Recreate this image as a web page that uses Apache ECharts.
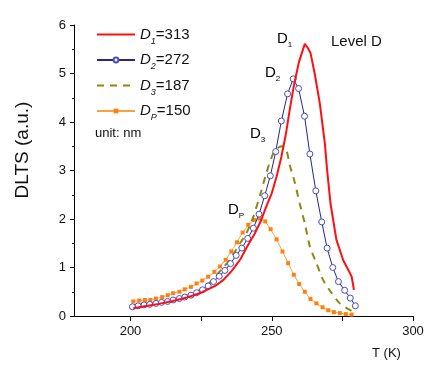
<!DOCTYPE html>
<html><head><meta charset="utf-8">
<script src="https://cdn.jsdelivr.net/npm/echarts@6/dist/echarts.min.js"></script>
<style>html,body{margin:0;padding:0;background:#fff}#c{width:438px;height:379px}</style>
</head><body><div id="c"></div>
<script>
// ---- data ----
var seriesLabels = ['1', '2', '3', 'P'];
var seriesSizes = ['313', '272', '187', '150'];
var xTicks = [200, 225, 250, 275, 300];
var xLabels = [200, 250, 300];

var d1T = [201, 205, 210, 215, 220, 225, 230, 233, 236, 239, 241, 244, 246.3, 248, 250, 251.7, 253.4, 255, 256.5, 258, 259.6, 261.7, 262.5, 263.7, 265.2, 267, 268.8, 269.6, 270.8, 272.9, 275.3, 277.1, 278.3, 279.1];
var d1V = [0.16, 0.20, 0.25, 0.31, 0.38, 0.48, 0.62, 0.75, 0.94, 1.18, 1.40, 1.70, 1.98, 2.25, 2.53, 2.87, 3.28, 3.75, 4.30, 4.80, 5.23, 5.61, 5.55, 5.43, 5.00, 4.39, 3.56, 3.01, 2.32, 1.57, 1.15, 0.95, 0.81, 0.54];

var d2T = [200.7, 202.7, 204.8, 206.8, 209, 211, 213.1, 215.1, 217.3, 219.2, 221.4, 223.4, 225.5, 227.5, 229.4, 231.4, 233.4, 235.4, 237.4, 239.4, 241.5, 243.5, 245.5, 247.5, 249.5, 251.4, 253.4, 255.6, 257.6, 259.5, 261.6, 263.5, 265.6, 267.7, 269.6, 271.6, 273.6, 275.8, 277.8, 279.6];
var d2V = [0.19, 0.21, 0.23, 0.24, 0.26, 0.28, 0.30, 0.33, 0.36, 0.39, 0.43, 0.48, 0.54, 0.62, 0.71, 0.82, 0.94, 1.08, 1.25, 1.40, 1.60, 1.81, 2.10, 2.48, 2.89, 3.39, 4.02, 4.58, 4.89, 4.69, 4.12, 3.34, 2.58, 1.94, 1.40, 1.00, 0.71, 0.53, 0.37, 0.21];

var d3T = [201, 205, 210, 215, 220, 224, 227, 229, 231, 233, 235, 237, 239, 241, 243.5, 246, 248.1, 250.5, 252.5, 254, 255.2, 256.4, 258.2, 259.9, 261.7, 263.5, 265.8, 268.2, 271.2, 274.1, 277.7, 280];
var d3V = [0.22, 0.25, 0.29, 0.34, 0.42, 0.52, 0.63, 0.75, 0.88, 1.01, 1.15, 1.33, 1.52, 1.70, 2.05, 2.52, 2.95, 3.35, 3.48, 3.50, 3.42, 3.11, 2.74, 2.32, 1.91, 1.43, 1.09, 0.74, 0.47, 0.26, 0.12, 0.06];

var dpT = [201, 203.1, 205.1, 207, 209, 211.2, 213.2, 215.1, 217.3, 219.2, 221.4, 223.4, 225.4, 227.5, 229.7, 231.7, 233.7, 235.7, 237.7, 239.7, 241.7, 243.7, 245.7, 247.7, 249.6, 251.7, 253.8, 255.8, 257.8, 259.7, 261.7, 263.7, 265.8, 268, 270, 272, 274.1, 276.2, 278.3];
var dpV = [0.30, 0.32, 0.33, 0.33, 0.36, 0.39, 0.43, 0.47, 0.50, 0.55, 0.60, 0.67, 0.73, 0.81, 0.91, 1.02, 1.16, 1.33, 1.52, 1.72, 1.88, 1.98, 2.01, 1.95, 1.79, 1.58, 1.33, 1.09, 0.85, 0.66, 0.50, 0.35, 0.26, 0.18, 0.12, 0.08, 0.06, 0.04, 0.03];

function pairs(t, v) { return t.map(function (x, i) { return [x, v[i]]; }); }
function seriesName(i) { return 'D' + seriesLabels[i] + '=' + seriesSizes[i]; }
var names = [seriesName(0), seriesName(1), seriesName(2), seriesName(3)];

var FONT = 'Liberation Sans, Arial, sans-serif';
var chart = echarts.init(document.getElementById('c'), null, { renderer: 'canvas' });
var sub = {
  d: { fontFamily: FONT, fontSize: 15, fontStyle: 'italic', color: '#111', verticalAlign: 'middle', lineHeight: 22 },
  s: { fontFamily: FONT, fontSize: 9, fontStyle: 'italic', color: '#111', verticalAlign: 'bottom', lineHeight: 9 },
  v: { fontFamily: FONT, fontSize: 15, color: '#111', verticalAlign: 'middle', lineHeight: 22 },
  D: { fontFamily: FONT, fontSize: 15, color: '#111', verticalAlign: 'middle', lineHeight: 21 },
  S: { fontFamily: FONT, fontSize: 8, color: '#111', verticalAlign: 'bottom', lineHeight: 8 }
};

chart.setOption({
  animation: false,
  backgroundColor: '#fff',
  grid: { left: 74, right: 25, top: 25, bottom: 63, containLabel: false },
  xAxis: {
    type: 'value', min: 180, max: 300,
    axisLine: { lineStyle: { color: '#000', width: 1 } },
    axisTick: { show: true, length: 5, customValues: xTicks, lineStyle: { color: '#000' } },
    axisLabel: { customValues: xLabels, fontFamily: FONT, fontSize: 13, color: '#111', margin: 9 },
    splitLine: { show: false }
  },
  yAxis: {
    type: 'value', min: 0, max: 6, interval: 1,
    axisLine: { show: true, lineStyle: { color: '#000', width: 1 } },
    axisTick: { show: true, length: 4, lineStyle: { color: '#000' } },
    minorTick: { show: true, splitNumber: 2, length: 2, lineStyle: { color: '#000' } },
    axisLabel: { fontFamily: FONT, fontSize: 13, color: '#111', margin: 8 },
    splitLine: { show: false }
  },
  legend: {
    orient: 'vertical', left: 91, top: 22, itemWidth: 38, itemHeight: 6, itemGap: 7,
    data: [
      { name: names[0], itemStyle: { opacity: 0 } },
      { name: names[1] },
      { name: names[2], itemStyle: { opacity: 0 } },
      { name: names[3] }
    ],
    formatter: function (name) {
      var i = names.indexOf(name);
      return '{d|D}{s|' + seriesLabels[i] + '}{v|=' + seriesSizes[i] + '}';
    },
    textStyle: { rich: sub }
  },
  series: [
    { name: names[0], type: 'line', data: pairs(d1T, d1V), symbol: 'none', lineStyle: { color: '#ff1010', width: 2 }, itemStyle: { color: '#ff1010' }, z: 4 },
    { name: names[1], type: 'line', data: pairs(d2T, d2V), symbol: 'circle', symbolSize: 6, lineStyle: { color: '#26268c', width: 1 }, itemStyle: { color: '#fff', borderColor: '#4b4bc8', borderWidth: 1 }, z: 3 },
    { name: names[2], type: 'line', data: pairs(d3T, d3V), symbol: 'none', smooth: 0.2, lineStyle: { color: '#8a8a10', width: 2, type: [7, 6] }, itemStyle: { color: '#8a8a10' }, z: 2 },
    { name: names[3], type: 'line', data: pairs(dpT, dpV), symbol: 'rect', symbolSize: 4, lineStyle: { color: '#ffa040', width: 1 }, itemStyle: { color: '#ff8010' }, z: 1 }
  ],
  graphic: [
    { type: 'text', x: 23, y: 150, rotation: Math.PI / 2, style: { text: 'DLTS (a.u.)', font: '19px ' + FONT, fill: '#111', align: 'center', verticalAlign: 'middle' } },
    { type: 'text', left: 372, top: 347, style: { text: 'T (K)', font: '13px ' + FONT, fill: '#111' } },
    { type: 'text', left: 95, top: 127, style: { text: 'unit: nm', font: '13px ' + FONT, fill: '#111' } },
    { type: 'text', left: 277, top: 31, style: { text: '{D|D}{S|1}', rich: sub } },
    { type: 'text', left: 265, top: 65, style: { text: '{D|D}{S|2}', rich: sub } },
    { type: 'text', left: 250, top: 126, style: { text: '{D|D}{S|3}', rich: sub } },
    { type: 'text', left: 228, top: 202, style: { text: '{D|D}{S|P}', rich: sub } },
    { type: 'text', left: 331, top: 34, style: { text: 'Level D', font: '15px ' + FONT, fill: '#111' } }
  ]
});
</script></body></html>
